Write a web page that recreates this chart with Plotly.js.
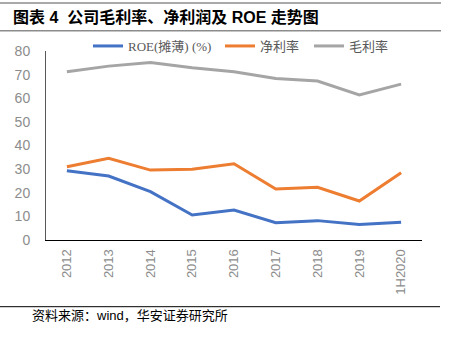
<!DOCTYPE html>
<html>
<head>
<meta charset="utf-8">
<script src="https://cdn.plot.ly/plotly-3.0.1.min.js"></script>
<style>html,body{margin:0;padding:0;background:#fff;}#chart{width:452px;height:346px;}</style>
</head>
<body>
<div id="chart"></div>
<script>
var categories = ["2012","2013","2014","2015","2016","2017","2018","2019","1H2020"];
var roe = [29.3, 27.1, 20.5, 10.6, 12.7, 7.3, 8.2, 6.6, 7.5];
var netMargin = [31.0, 34.6, 29.6, 29.9, 32.3, 21.6, 22.3, 16.5, 28.5];
var grossMargin = [71.2, 73.6, 75.1, 72.9, 71.2, 68.4, 67.3, 61.4, 66.0];
var seriesNames = ["ROE(摊薄) (%)", "净利率", "毛利率"];
var yTicks = [0, 10, 20, 30, 40, 50, 60, 70, 80];

var L = 46, R = 422, T = 51, B = 240;
function px(x){ return (x - L) / (R - L); }
function py(y){ return (B - y) / (B - T); }

var legendFont = {family: "Liberation Serif, Noto Sans CJK SC", size: 13, color: "#595959"};
var traces = [
  {x: categories, y: roe, name: seriesNames[0], type: "scatter", mode: "lines",
   line: {color: "#4472C4", width: 3}, legend: "legend"},
  {x: categories, y: netMargin, name: seriesNames[1], type: "scatter", mode: "lines",
   line: {color: "#ED7D31", width: 3}, legend: "legend2"},
  {x: categories, y: grossMargin, name: seriesNames[2], type: "scatter", mode: "lines",
   line: {color: "#A5A5A5", width: 3}, legend: "legend3"}
];

function leg(xpix){
  return {x: px(xpix), y: py(46), xanchor: "left", yanchor: "middle", orientation: "h",
          bgcolor: "rgba(0,0,0,0)", borderwidth: 0, font: legendFont};
}

var layout = {
  width: 452, height: 346,
  margin: {l: L, r: 452 - R, t: T, b: 346 - B},
  paper_bgcolor: "#fff", plot_bgcolor: "#fff",
  showlegend: true,
  legend: leg(88), legend2: leg(220), legend3: leg(309),
  title: {text: "图表 4  公司毛利率、净利润及 <b>ROE</b> 走势图", xref: "container", yref: "container",
          x: 13/452, xanchor: "left", y: 1 - 17/346, yanchor: "middle",
          font: {family: "Liberation Sans, Noto Sans CJK SC", size: 16, color: "#000", weight: "bold"}},
  xaxis: {type: "category", range: [-0.5, categories.length - 0.5], tickangle: -90, showgrid: false, zeroline: false,
          showline: true, linecolor: "#000", linewidth: 1, ticks: "", ticklabelstandoff: 3,
          tickfont: {family: "Liberation Sans, Arial", size: 13, color: "#8c8c8c"}},
  yaxis: {range: [0, 80], tickvals: yTicks, showgrid: false, zeroline: false,
          showline: true, linecolor: "#595959", linewidth: 1, ticks: "",
          ticklabelstandoff: 12,
          tickfont: {family: "Liberation Sans, Arial", size: 14, color: "#8c8c8c"}},
  shapes: [
    {type: "line", xref: "paper", yref: "paper", x0: px(0), x1: px(441), y0: py(3), y1: py(3), line: {color: "#8c8c8c", width: 1.5}},
    {type: "line", xref: "paper", yref: "paper", x0: px(0), x1: px(441), y0: py(30.7), y1: py(30.7), line: {color: "#8c8c8c", width: 1.5}},
    {type: "line", xref: "paper", yref: "paper", x0: px(0), x1: px(440), y0: py(306.7), y1: py(306.7), line: {color: "#000", width: 1}}
  ],
  annotations: [
    {text: "资料来源：wind，华安证券研究所", xref: "paper", yref: "paper", x: px(30), y: py(315),
     xanchor: "left", yanchor: "middle", showarrow: false,
     font: {family: "Liberation Sans, Noto Sans CJK SC", size: 13, color: "#000"}}
  ]
};

Plotly.newPlot("chart", traces, layout, {displayModeBar: false, staticPlot: true});
</script>
</body>
</html>
